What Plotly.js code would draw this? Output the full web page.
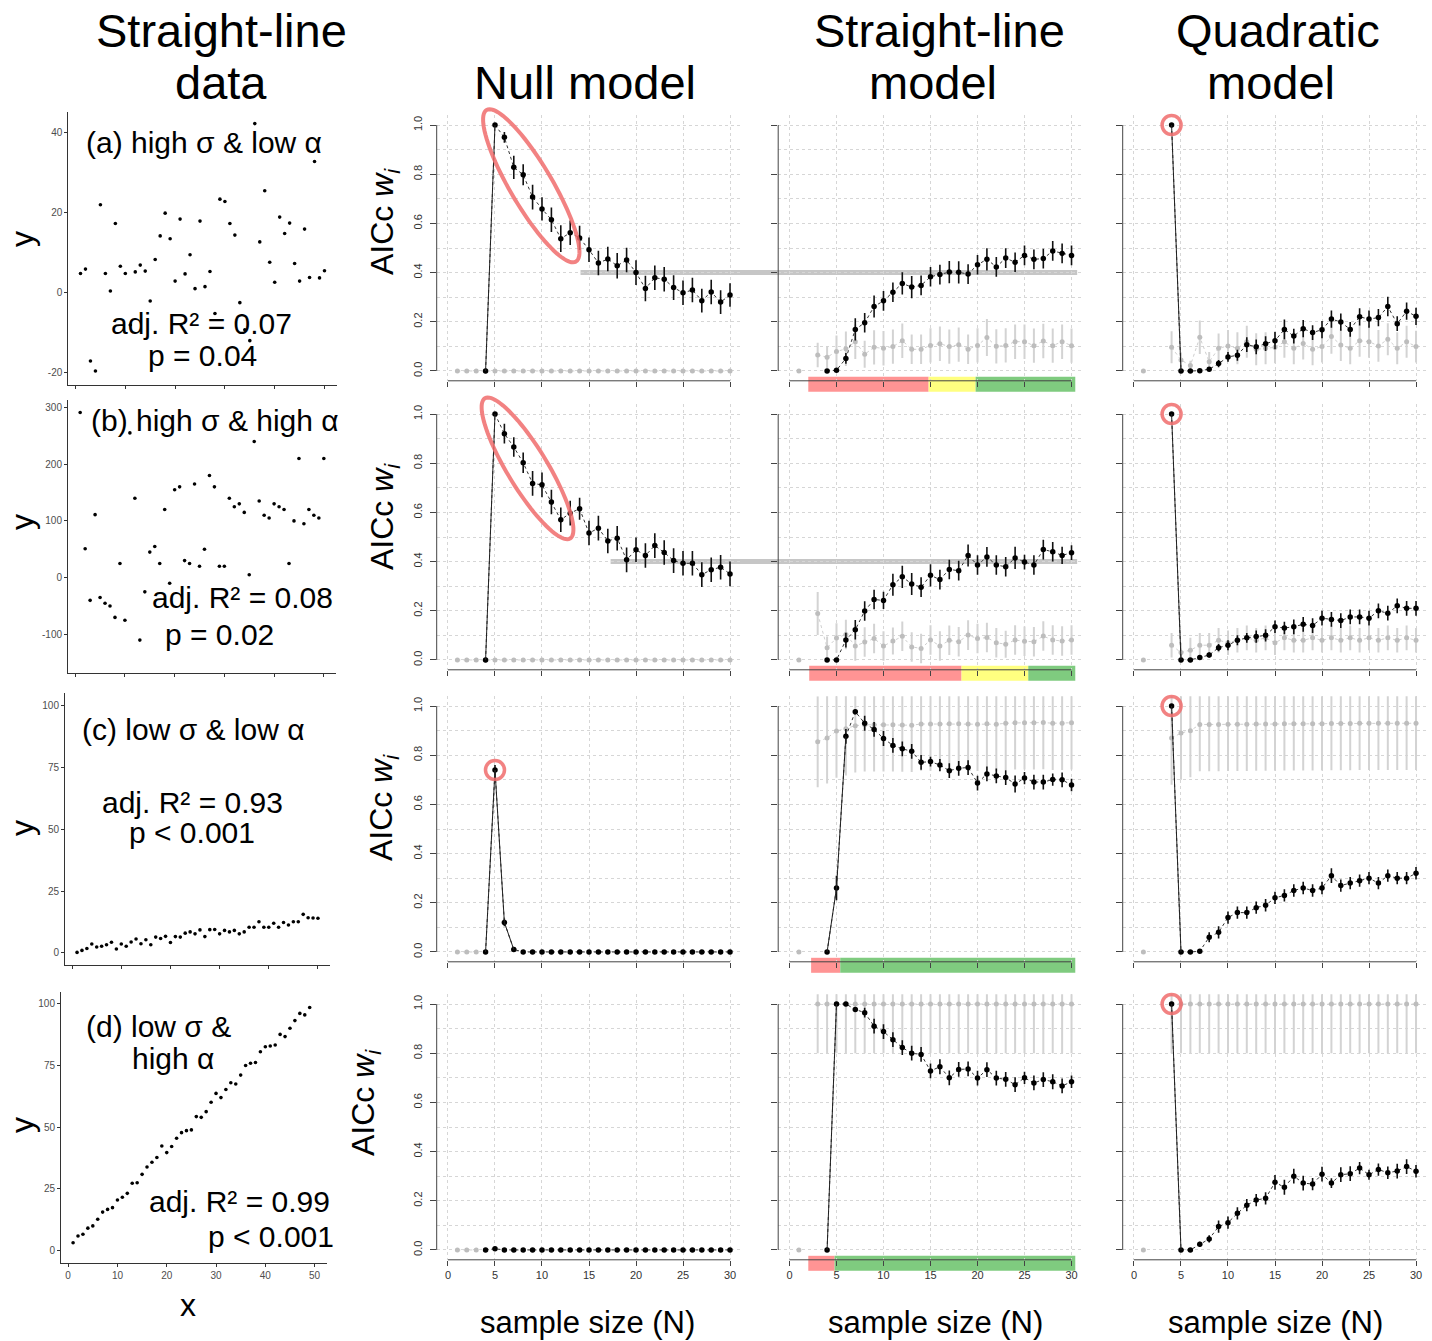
<!DOCTYPE html>
<html><head><meta charset="utf-8">
<script src="https://cdn.plot.ly/plotly-3.0.1.min.js"></script>
<style>html,body{margin:0;padding:0;background:#fff}</style>
</head><body><div id="chart" style="width:1432px;height:1341px"></div>
<script>
const W = 1432, H = 1341;
const FONT = '"Liberation Sans", Arial, sans-serif';

// ---------------- Straight-line data panels ----------------
const xObs = [1,2,3,4,5,6,7,8,9,10,11,12,13,14,15,16,17,18,19,20,21,22,23,24,25,26,27,28,29,30,31,32,33,34,35,36,37,38,39,40,41,42,43,44,45,46,47,48,49,50];
const yA = [4.8,5.9,-17.1,-19.6,22.0,4.8,0.4,17.3,6.6,4.8,-8.1,5.2,6.9,5.4,-2.1,8.3,14.2,19.9,13.5,2.9,18.4,4.7,9.5,1.0,17.9,1.5,5.3,-5.2,23.4,22.8,17.3,14.4,-2.5,-9.3,-12.0,42.3,12.7,25.5,7.6,2.6,18.9,14.8,17.4,7.3,2.9,15.9,3.8,32.8,3.7,5.5];
const yB = [291,51,-40,111,-35,-45,-50,-70,25,-75,255,140,-110,-25,45,55,25,120,-10,155,160,30,25,165,20,50,180,160,20,20,140,125,130,115,5,240,135,110,105,130,125,120,25,100,210,95,120,110,105,210];
const yC = [0.2,1.0,1.8,3.6,2.4,2.7,3.3,4.3,1.6,3.6,2.7,4.4,5.6,3.7,5.3,3.3,6.4,5.8,6.7,4.2,6.6,6.4,8.0,8.5,7.7,9.3,6.6,9.4,9.5,7.7,9.1,8.5,9.1,7.7,8.5,10.4,10.4,12.6,10.4,10.4,12.0,10.4,12.3,11.3,12.6,12.6,15.6,14.2,14.1,14.0];
const yD = [3.2,5.9,6.6,9.1,10.0,12.7,15.6,16.7,17.4,20.5,21.6,23.2,27.3,27.5,30.9,33.9,35.8,37.7,42.4,39.7,42.2,45.5,47.8,48.6,48.9,54.3,54.0,56.3,60.1,63.7,62.0,65.3,68.0,67.5,71.1,75.0,75.9,76.2,80.6,82.6,82.9,83.3,87.6,86.7,90.1,93.2,96.1,95.5,98.5];

// ---------------- AICc weight panels ----------------
const N = [1,2,3,4,5,6,7,8,9,10,11,12,13,14,15,16,17,18,19,20,21,22,23,24,25,26,27,28,29,30];

const nullA_w  = [null,null,null,0,1.0,0.95,0.828,0.798,0.707,0.659,0.615,0.538,0.562,0.541,0.493,0.439,0.455,0.428,0.451,0.400,0.335,0.379,0.373,0.339,0.318,0.329,0.286,0.321,0.280,0.309];
const nullA_se = [null,null,null,0,0,0.022,0.047,0.043,0.05,0.047,0.05,0.054,0.05,0.049,0.05,0.05,0.05,0.052,0.05,0.05,0.052,0.05,0.05,0.05,0.05,0.05,0.048,0.05,0.048,0.048];
const nullA_g  = [0,0,0,0,0,0,0,0,0,0,0,0,0,0,0,0,0,0,0,0,0,0,0,0,0,0,0,0,0,0];
const nullA_ge = [0,0,0,0,0,0,0,0,0,0,0,0,0,0,0,0,0,0,0,0,0,0,0,0,0,0,0,0,0,0];

const lineA_w  = [null,null,null,0,0.003,0.051,0.169,0.196,0.262,0.285,0.320,0.356,0.341,0.348,0.383,0.392,0.402,0.401,0.394,0.432,0.454,0.423,0.459,0.442,0.470,0.454,0.457,0.488,0.478,0.470];
const lineA_se = [null,null,null,0,0.004,0.022,0.045,0.04,0.045,0.04,0.04,0.045,0.045,0.04,0.04,0.04,0.045,0.045,0.04,0.04,0.045,0.04,0.04,0.04,0.04,0.04,0.04,0.04,0.04,0.04];
const lineA_g  = [0,null,0.065,0.056,0.079,0.09,0.119,0.068,0.096,0.092,0.099,0.123,0.088,0.088,0.104,0.111,0.099,0.107,0.088,0.104,0.136,0.100,0.104,0.119,0.119,0.103,0.122,0.103,0.119,0.103];
const lineA_ge = [0,null,0.05,0.045,0.065,0.07,0.07,0.055,0.07,0.07,0.07,0.07,0.06,0.06,0.07,0.07,0.07,0.07,0.06,0.07,0.075,0.07,0.07,0.07,0.07,0.07,0.07,0.07,0.07,0.07];

const quadA_w  = [null,null,null,1.0,0,0,0.001,0.007,0.03,0.057,0.064,0.107,0.098,0.111,0.123,0.169,0.142,0.172,0.156,0.168,0.211,0.199,0.169,0.220,0.211,0.217,0.262,0.192,0.243,0.222];
const quadA_se = [null,null,null,0,0,0,0.002,0.006,0.015,0.02,0.022,0.03,0.03,0.03,0.035,0.04,0.03,0.035,0.03,0.035,0.035,0.035,0.03,0.035,0.035,0.035,0.04,0.03,0.035,0.035];
const quadA_g  = [0,null,null,0.096,0.045,0.022,0.137,0.037,0.092,0.102,0.092,0.119,0.088,0.092,0.096,0.119,0.092,0.112,0.088,0.099,0.14,0.106,0.092,0.123,0.119,0.102,0.129,0.092,0.119,0.099];
const quadA_ge = [0,null,null,0.065,0.03,0.02,0.068,0.04,0.06,0.065,0.065,0.065,0.065,0.065,0.065,0.065,0.065,0.065,0.065,0.065,0.07,0.065,0.065,0.065,0.065,0.065,0.065,0.065,0.065,0.065];

const nullB_w  = [null,null,null,0,1.0,0.92,0.866,0.802,0.718,0.712,0.642,0.570,0.597,0.615,0.516,0.536,0.484,0.495,0.407,0.448,0.425,0.465,0.437,0.404,0.393,0.393,0.347,0.367,0.377,0.350];
const nullB_se = [null,null,null,0,0,0.04,0.04,0.042,0.05,0.05,0.05,0.05,0.05,0.045,0.05,0.05,0.05,0.05,0.05,0.05,0.05,0.05,0.05,0.05,0.05,0.05,0.05,0.05,0.05,0.05];
const nullB_g  = [0,0,0,0,0,0,0,0,0,0,0,0,0,0,0,0,0,0,0,0,0,0,0,0,0,0,0,0,0,0];
const nullB_ge = [0,0,0,0,0,0,0,0,0,0,0,0,0,0,0,0,0,0,0,0,0,0,0,0,0,0,0,0,0,0];

const lineB_w  = [null,null,null,0,0,0.081,0.123,0.199,0.246,0.242,0.306,0.338,0.309,0.296,0.344,0.327,0.368,0.363,0.425,0.386,0.419,0.386,0.379,0.415,0.398,0.386,0.449,0.440,0.425,0.436];
const lineB_se = [null,null,null,0,0,0.03,0.04,0.04,0.04,0.035,0.045,0.045,0.045,0.04,0.045,0.04,0.04,0.04,0.045,0.04,0.04,0.04,0.04,0.045,0.03,0.04,0.04,0.04,0.035,0.03];
const lineB_g  = [0,null,0.189,0.05,0.089,0.104,0.057,0.073,0.087,0.057,0.077,0.096,0.053,0.047,0.081,0.057,0.080,0.074,0.101,0.087,0.091,0.070,0.064,0.081,0.076,0.074,0.097,0.081,0.077,0.081];
const lineB_ge = [0,null,0.087,0.045,0.06,0.06,0.06,0.06,0.06,0.06,0.055,0.06,0.06,0.06,0.06,0.06,0.06,0.06,0.06,0.06,0.06,0.06,0.055,0.06,0.06,0.06,0.06,0.06,0.06,0.06];

const quadB_w  = [null,null,null,1.0,0,0,0.01,0.02,0.05,0.06,0.08,0.09,0.095,0.10,0.135,0.13,0.135,0.145,0.14,0.17,0.165,0.16,0.175,0.175,0.17,0.20,0.19,0.22,0.21,0.21];
const quadB_se = [null,null,null,0,0,0,0.005,0.01,0.015,0.02,0.02,0.02,0.025,0.025,0.025,0.025,0.03,0.03,0.03,0.03,0.03,0.03,0.03,0.03,0.03,0.03,0.03,0.03,0.03,0.03];
const quadB_g  = [0,null,null,0.06,0.03,0.04,0.06,0.06,0.08,0.07,0.08,0.09,0.08,0.09,0.07,0.09,0.08,0.08,0.09,0.08,0.09,0.08,0.09,0.08,0.09,0.08,0.09,0.08,0.09,0.08];
const quadB_ge = [0,null,null,0.05,0.04,0.05,0.05,0.05,0.05,0.05,0.05,0.05,0.05,0.05,0.05,0.05,0.05,0.05,0.05,0.05,0.05,0.05,0.05,0.05,0.05,0.05,0.05,0.05,0.05,0.05];

const nullC_w  = [null,null,null,0,0.74,0.12,0.01,0,0,0,0,0,0,0,0,0,0,0,0,0,0,0,0,0,0,0,0,0,0,0];
const nullC_se = [null,null,null,0,0.02,0.015,0.005,0,0,0,0,0,0,0,0,0,0,0,0,0,0,0,0,0,0,0,0,0,0,0];
const nullC_g  = [0,0,0,null,null,null,null,null,null,null,null,null,null,null,null,null,null,null,null,null,null,null,null,null,null,null,null,null,null,null];
const nullC_ge = [0,0,0,null,null,null,null,null,null,null,null,null,null,null,null,null,null,null,null,null,null,null,null,null,null,null,null,null,null,null];

const lineC_w  = [null,null,null,0,0.26,0.877,0.977,0.93,0.905,0.868,0.84,0.826,0.816,0.771,0.774,0.76,0.737,0.747,0.75,0.687,0.724,0.716,0.709,0.683,0.707,0.691,0.691,0.701,0.70,0.679];
const lineC_se = [null,null,null,0,0.05,0.03,0.01,0.03,0.03,0.03,0.03,0.03,0.03,0.03,0.02,0.025,0.03,0.03,0.03,0.03,0.03,0.03,0.03,0.035,0.025,0.03,0.03,0.025,0.03,0.025];
const lineC_g  = [0,null,0.855,0.87,0.898,0.908,0.92,0.924,0.924,0.924,0.924,0.923,0.922,0.927,0.927,0.927,0.928,0.928,0.927,0.926,0.928,0.926,0.930,0.932,0.932,0.932,0.933,0.930,0.930,0.932];
const lineC_ge = [0,null,0.185,0.185,0.19,0.19,0.19,0.19,0.19,0.19,0.19,0.19,0.19,0.19,0.19,0.19,0.19,0.19,0.19,0.19,0.19,0.19,0.19,0.19,0.19,0.19,0.19,0.19,0.19,0.19];

const quadC_w  = [null,null,null,1.0,0,0,0.003,0.06,0.08,0.14,0.16,0.16,0.18,0.19,0.22,0.23,0.25,0.26,0.25,0.26,0.31,0.27,0.28,0.29,0.30,0.28,0.31,0.30,0.30,0.32];
const quadC_se = [null,null,null,0,0,0,0.005,0.02,0.025,0.025,0.025,0.025,0.025,0.025,0.025,0.025,0.025,0.025,0.025,0.025,0.03,0.025,0.025,0.025,0.025,0.025,0.025,0.025,0.025,0.025];
const quadC_g  = [0,null,null,0.87,0.89,0.90,0.925,0.925,0.925,0.926,0.926,0.926,0.927,0.927,0.927,0.928,0.928,0.928,0.928,0.928,0.929,0.929,0.929,0.930,0.930,0.930,0.930,0.930,0.930,0.930];
const quadC_ge = [0,null,null,0.19,0.19,0.19,0.19,0.19,0.19,0.19,0.19,0.19,0.19,0.19,0.19,0.19,0.19,0.19,0.19,0.19,0.19,0.19,0.19,0.19,0.19,0.19,0.19,0.19,0.19,0.19];

const nullD_w  = [null,null,null,0,0.005,0,0,0,0,0,0,0,0,0,0,0,0,0,0,0,0,0,0,0,0,0,0,0,0,0];
const nullD_se = [null,null,null,0,0,0,0,0,0,0,0,0,0,0,0,0,0,0,0,0,0,0,0,0,0,0,0,0,0,0];
const nullD_g  = [0,0,0,null,null,null,null,null,null,null,null,null,null,null,null,null,null,null,null,null,null,null,null,null,null,null,null,null,null,null];
const nullD_ge = [0,0,0,null,null,null,null,null,null,null,null,null,null,null,null,null,null,null,null,null,null,null,null,null,null,null,null,null,null,null];

const lineD_w  = [null,null,null,0,1.0,1.0,0.978,0.965,0.91,0.888,0.855,0.823,0.80,0.795,0.728,0.745,0.70,0.734,0.736,0.699,0.733,0.699,0.694,0.672,0.70,0.679,0.693,0.684,0.667,0.684];
const lineD_se = [null,null,null,0,0,0,0.01,0.02,0.03,0.03,0.03,0.03,0.03,0.03,0.03,0.03,0.03,0.03,0.03,0.03,0.03,0.03,0.03,0.03,0.025,0.03,0.03,0.03,0.03,0.025];
const lineD_g  = [0,null,1,1,1,1,1,1,1,1,1,1,1,1,1,1,1,1,1,1,1,1,1,1,1,1,1,1,1,1];
const lineD_ge = [0,null,0.2,0.2,0.2,0.2,0.2,0.2,0.2,0.2,0.2,0.2,0.2,0.2,0.2,0.2,0.2,0.2,0.2,0.2,0.2,0.2,0.2,0.2,0.2,0.2,0.2,0.2,0.2,0.2];

const quadD_w  = [null,null,null,1.0,0,0,0.023,0.045,0.095,0.111,0.149,0.182,0.203,0.21,0.275,0.255,0.30,0.272,0.268,0.308,0.272,0.306,0.31,0.333,0.306,0.327,0.314,0.321,0.339,0.32];
const quadD_se = [null,null,null,0,0,0,0.01,0.015,0.025,0.025,0.025,0.025,0.025,0.025,0.03,0.03,0.03,0.03,0.025,0.03,0.02,0.03,0.03,0.025,0.02,0.025,0.025,0.03,0.03,0.025];
const quadD_g  = [0,null,null,1,1,1,1,1,1,1,1,1,1,1,1,1,1,1,1,1,1,1,1,1,1,1,1,1,1,1];
const quadD_ge = [0,null,null,0.2,0.2,0.2,0.2,0.2,0.2,0.2,0.2,0.2,0.2,0.2,0.2,0.2,0.2,0.2,0.2,0.2,0.2,0.2,0.2,0.2,0.2,0.2,0.2,0.2,0.2,0.2];

// sample-size zones under the straight-line model panels
const zonesA = [[2.0,14.8],[14.8,19.8],[19.8,30.4]];
const zonesB = [[2.1,18.3],[18.3,25.4],[25.4,30.4]];
const zonesC = [[2.3,5.4],[5.4,30.4]];
const zonesD = [[2.0,4.8],[4.8,30.4]];

// ---------------- Geometry ----------------
const scatterGeom = [
  {l:68.3, r:336.7, t:112,   b:385,    yr:[-23.1,45.2],  yt:[-20,0,20,40]},
  {l:68,   r:336,   t:400,   b:673,    yr:[-168,313],    yt:[-100,0,100,200,300]},
  {l:65,   r:330,   t:693,   b:965,    yr:[-4.9,105.2],  yt:[0,25,50,75,100]},
  {l:61,   r:326.7, t:991.7, b:1262.7, yr:[-4.9,104.9],  yt:[0,25,50,75,100]}
];
const colLeft = [null, 436.7, 778.2, 1122.7];
const aicW = 304.6, aicH = 265.6;
const rowTop = [115.2, 404.2, 696.2, 994.2];
const XR = [-1.2, 31.2], YR = [-0.04, 1.04];
const pxX = (c, x) => colLeft[c] + (x - XR[0]) / (XR[1] - XR[0]) * aicW;
const pxY = (r, y) => rowTop[r] + (YR[1] - y) / (YR[1] - YR[0]) * aicH;
const PX = x => x / W, PY = y => 1 - y / H;

const panels = [
  [{b:nullA_w,be:nullA_se,g:nullA_g,ge:nullA_ge,jump:5},{b:lineA_w,be:lineA_se,g:lineA_g,ge:lineA_ge,jump:0},{b:quadA_w,be:quadA_se,g:quadA_g,ge:quadA_ge,jump:5}],
  [{b:nullB_w,be:nullB_se,g:nullB_g,ge:nullB_ge,jump:5},{b:lineB_w,be:lineB_se,g:lineB_g,ge:lineB_ge,jump:0},{b:quadB_w,be:quadB_se,g:quadB_g,ge:quadB_ge,jump:5}],
  [{b:nullC_w,be:nullC_se,g:nullC_g,ge:nullC_ge,jump:7},{b:lineC_w,be:lineC_se,g:lineC_g,ge:lineC_ge,jump:6},{b:quadC_w,be:quadC_se,g:quadC_g,ge:quadC_ge,jump:5}],
  [{b:nullD_w,be:nullD_se,g:nullD_g,ge:nullD_ge,jump:0},{b:lineD_w,be:lineD_se,g:lineD_g,ge:lineD_ge,jump:5},{b:quadD_w,be:quadD_se,g:quadD_g,ge:quadD_ge,jump:5}]
];
const scatterY = [yA, yB, yC, yD];
const zones = [zonesA, zonesB, zonesC, zonesD];
const zoneColors = ['#ff9494', '#ffff80', '#7fcb7f'];
const zoneColors2 = ['#ff9494', '#7fcb7f'];

const traces = [];
const shapes = [];
const ann = [];
const layout = {
  width: W, height: H, margin: {l:0, r:0, t:0, b:0},
  paper_bgcolor: '#ffffff', plot_bgcolor: 'rgba(0,0,0,0)',
  showlegend: false, font: {family: FONT, color: '#000'}
};
const aid = k => (k === 1 ? '' : String(k));

for (let r = 0; r < 4; r++) {
  const g = scatterGeom[r];
  const k = r * 4 + 1;
  layout['xaxis' + aid(k)] = {
    domain: [PX(g.l), PX(g.r)], range: [-1.45, 52.45], anchor: 'y' + aid(k),
    showgrid: false, zeroline: false, showline: true, linecolor: '#333', linewidth: 1,
    ticks: 'outside', ticklen: 3, tickcolor: '#333', tickmode: 'array', tickvals: [0,10,20,30,40,50],
    showticklabels: r === 3, tickfont: {size: 10, color: '#4d4d4d', family: FONT}
  };
  layout['yaxis' + aid(k)] = {
    domain: [PY(g.b), PY(g.t)], range: g.yr, anchor: 'x' + aid(k),
    showgrid: false, zeroline: false, showline: true, linecolor: '#333', linewidth: 1,
    ticks: 'outside', ticklen: 3, tickcolor: '#333', tickmode: 'array', tickvals: g.yt,
    ticktext: g.yt.map(v => String(v)),
    tickfont: {size: 10, color: '#4d4d4d', family: FONT}
  };
  const ys = scatterY[r];
  traces.push({type: 'scatter', mode: 'markers', x: xObs.slice(0, ys.length), y: ys,
    xaxis: 'x' + aid(k), yaxis: 'y' + aid(k), marker: {color: '#000', size: 3.6}, hoverinfo: 'skip'});

  for (let c = 1; c <= 3; c++) {
    const kk = r * 4 + c + 1;
    const p = panels[r][c - 1];
    layout['xaxis' + aid(kk)] = {
      domain: [PX(colLeft[c]), PX(colLeft[c] + aicW)], range: XR, anchor: 'y' + aid(kk),
      showline: false, zeroline: false, showgrid: true, gridcolor: '#d6d6d6', griddash: 'dot', gridwidth: 1,
      ticks: 'outside', ticklen: 5, tickcolor: '#444', tickwidth: 1, tickmode: 'array', tickvals: [0,5,10,15,20,25,30],
      showticklabels: r === 3, tickfont: {size: 11, color: '#333', family: FONT}
    };
    layout['yaxis' + aid(kk)] = {
      domain: [PY(rowTop[r] + aicH), PY(rowTop[r])], range: YR, anchor: 'x' + aid(kk),
      showline: false, zeroline: false, showgrid: true, gridcolor: '#d6d6d6', griddash: 'dot', gridwidth: 1,
      tickmode: 'linear', tick0: 0, dtick: 0.2, tickformat: '.1f',
      minor: {tickmode: 'linear', tick0: 0, dtick: 0.1, showgrid: true, gridcolor: '#d6d6d6', griddash: 'dot', gridwidth: 1},
      ticks: 'outside', ticklen: 6, tickcolor: '#444', tickwidth: 1,
      showticklabels: c === 1, tickangle: -90, ticklabelstandoff: 3,
      tickfont: {size: 11, color: '#333', family: FONT}
    };
    const xa = 'x' + aid(kk), ya = 'y' + aid(kk);
    traces.push({type: 'scatter', mode: 'lines+markers', x: N, y: p.g, xaxis: xa, yaxis: ya,
      line: {color: '#cfcfcf', width: 1, dash: 'dot'}, marker: {color: '#bdbdbd', size: 5},
      error_y: {type: 'data', array: p.ge, visible: true, color: '#d3d3d3', thickness: 2, width: 0}, hoverinfo: 'skip'});
    traces.push({type: 'scatter', mode: 'lines+markers', x: N, y: p.b, xaxis: xa, yaxis: ya,
      line: {color: '#333', width: 1, dash: 'dot'}, marker: {color: '#000', size: 5.5},
      error_y: {type: 'data', array: p.be, visible: true, color: '#111', thickness: 1.6, width: 0}, hoverinfo: 'skip'});
    if (p.jump) {
      const jx = N.filter(n => n >= 4 && n <= p.jump);
      const jy = jx.map(n => p.b[n - 1]);
      traces.push({type: 'scatter', mode: 'lines', x: jx, y: jy, xaxis: xa, yaxis: ya,
        line: {color: '#222', width: 1}, hoverinfo: 'skip'});
    }
    const bot = rowTop[r] + aicH;
    shapes.push({type: 'line', xref: 'paper', yref: 'paper', layer: 'above',
      x0: PX(pxX(c, 0)), x1: PX(pxX(c, 30)), y0: PY(bot), y1: PY(bot), line: {color: '#444', width: 1}});
    shapes.push({type: 'line', xref: 'paper', yref: 'paper', layer: 'above',
      x0: PX(colLeft[c]), x1: PX(colLeft[c]), y0: PY(pxY(r, 0)), y1: PY(pxY(r, 1)), line: {color: '#444', width: 1}});
  }

  const zc = zones[r].length === 3 ? zoneColors : zoneColors2;
  const bot = rowTop[r] + aicH;
  zones[r].forEach((z, i) => {
    shapes.push({type: 'rect', xref: 'paper', yref: 'paper', layer: 'below',
      x0: PX(pxX(2, z[0])), x1: PX(pxX(2, z[1])), y0: PY(bot + 11), y1: PY(bot - 4),
      line: {width: 0}, fillcolor: zc[i]});
  });
}

const refLines = [{row: 0, from: 14.1, to: 30.6, y: 0.4}, {row: 1, from: 17.3, to: 30.6, y: 0.4}];
refLines.forEach(l => {
  shapes.push({type: 'line', xref: 'paper', yref: 'paper', layer: 'below',
    x0: PX(pxX(1, l.from)), x1: PX(pxX(2, l.to)), y0: PY(pxY(l.row, l.y)), y1: PY(pxY(l.row, l.y)),
    line: {color: '#c6c6c6', width: 5}});
});

function ellipsePath(cx, cy, a, b, deg) {
  const th = deg * Math.PI / 180; let d = '';
  for (let i = 0; i <= 90; i++) {
    const t = i / 90 * 2 * Math.PI;
    const x = cx + a * Math.cos(t) * Math.cos(th) - b * Math.sin(t) * Math.sin(th);
    const y = cy + a * Math.cos(t) * Math.sin(th) + b * Math.sin(t) * Math.cos(th);
    d += (i ? 'L' : 'M') + PX(x).toFixed(5) + ',' + PY(y).toFixed(5);
  }
  return d + 'Z';
}
const RING = 'rgba(240,108,108,0.85)';
const ellipses = [{row: 0, col: 1, x: 8.86, y: 0.753, a: 88, b: 21, ang: 59.5},
                  {row: 1, col: 1, x: 8.46, y: 0.779, a: 82, b: 20, ang: 58.7}];
ellipses.forEach(e => {
  shapes.push({type: 'path', xref: 'paper', yref: 'paper', layer: 'above',
    path: ellipsePath(pxX(e.col, e.x), pxY(e.row, e.y), e.a, e.b, e.ang), line: {color: RING, width: 4}});
});
const rings = [{row: 0, col: 3, x: 4, y: 1}, {row: 1, col: 3, x: 4, y: 1}, {row: 2, col: 3, x: 4, y: 1},
               {row: 3, col: 3, x: 4, y: 1}, {row: 2, col: 1, x: 5, y: 0.74}];
rings.forEach(o => {
  const cx = pxX(o.col, o.x), cy = pxY(o.row, o.y), rr = 9.5;
  shapes.push({type: 'circle', xref: 'paper', yref: 'paper', layer: 'above',
    x0: PX(cx - rr), x1: PX(cx + rr), y0: PY(cy + rr), y1: PY(cy - rr), line: {color: RING, width: 3.5}});
});

function T(text, x, y, size, opts) {
  ann.push(Object.assign({text: text, x: PX(x), y: PY(y), xref: 'paper', yref: 'paper', showarrow: false,
    xanchor: 'center', yanchor: 'middle', font: {family: FONT, size: size, color: '#000'}}, opts || {}));
}
T('Straight-line', 221, 30, 47); T('data', 221, 82, 47);
T('Null model', 585, 82, 47);
T('Straight-line', 939, 30, 47); T('model', 933, 82, 47);
T('Quadratic', 1278, 30, 47); T('model', 1271, 82, 47);
[587, 935, 1275].forEach(x => T('sample size (N)', x, 1322, 31));
T('x', 188, 1305, 32);
[239, 522, 828, 1125].forEach(y => T('y', 22, y, 32, {textangle: -90}));
[[384, 222], [384, 517], [384, 808], [365, 1103]].forEach(p => T('AICc <i>w<sub>i</sub></i>', p[0], p[1], 32, {textangle: -90}));

T('(a) high σ & low α', 204, 143, 30);
T('adj. R² = 0.07', 201, 323, 30);
T('p = 0.04', 202, 355, 30);
T('(b) high σ & high α', 215, 420, 30);
T('adj. R² = 0.08', 242, 598, 30);
T('p = 0.02', 219, 634, 30);
T('(c) low σ & low α', 193, 729, 30);
T('adj. R² = 0.93', 192, 802, 30);
T('p < 0.001', 192, 832, 30);
T('(d) low σ &', 158, 1026, 30);
T('high α', 173, 1058, 30);
T('adj. R² = 0.99', 240, 1201, 30);
T('p < 0.001', 336, 1236, 30, {xanchor: 'right'});

layout.shapes = shapes;
layout.annotations = ann;
Plotly.newPlot('chart', traces, layout, {displayModeBar: false, staticPlot: true});
</script>
</body></html>
